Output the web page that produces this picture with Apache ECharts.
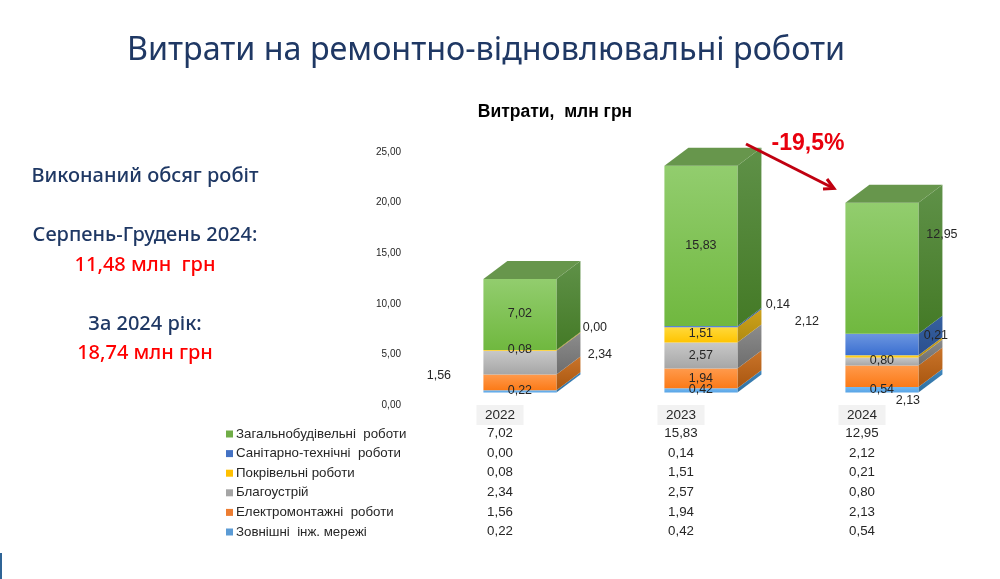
<!DOCTYPE html>
<html><head><meta charset="utf-8">
<style>html,body{margin:0;padding:0;background:#fff}#c{width:1000px;height:579px}</style>
<script src="https://cdn.jsdelivr.net/npm/echarts@6/dist/echarts.min.js"></script>
</head><body><div id="c"></div>
<script>
const years = ['2022','2023','2024'];
const general = [7.02,15.83,12.95];
const sanitary = [0.00,0.14,2.12];
const roofing = [0.08,1.51,0.21];
const landscaping = [2.34,2.57,0.80];
const electrical = [1.56,1.94,2.13];
const external = [0.22,0.42,0.54];
const yTicks = {min:0,max:25,interval:5};

const names = {
  general:'Загальнобудівельні  роботи', sanitary:'Санітарно-технічні  роботи', roofing:'Покрівельні роботи',
  landscaping:'Благоустрій', electrical:'Електромонтажні  роботи', external:'Зовнішні  інж. мережі'
};
// colours: legend, front top, front bottom, side top, side bottom
const looks = {
  external:['#5b9bd5','#74b8f0','#58a4e6','#3f86bd','#2f6f9f'],
  electrical:['#ed7d31','#ff9a4c','#fb7a17','#c9742a','#a9560f'],
  landscaping:['#a5a5a5','#c8c8c8','#a6a6a6','#8c8c8c','#6d6d6d'],
  roofing:['#ffc000','#ffd93a','#ffc400','#cda21c','#b08a10'],
  sanitary:['#4472c4','#6c96e0','#3b6fd0','#35609f','#2a4f8e'],
  general:['#70ad47','#92cd6e','#70b83f','#5f9148','#447a26']
};
// label nudges from the centre of each front face
const shifts = {
  external:[[0,-1],[0,-1],[0,0]],
  electrical:[[-81,-7],[0,0],[26,24]],
  landscaping:[[80,-8],[0,0],[0,-1]],
  roofing:[[0,-1],[0,-1],[54,-21]],
  sanitary:[[75,-22],[77,-22],[-75,-23]],
  general:[[0,-1],[0,0],[60,-34]]
};
const stackOrder = [['external',external],['electrical',electrical],['landscaping',landscaping],['roofing',roofing],['sanitary',sanitary],['general',general]];
const fmt = v => v.toFixed(2).replace('.',',');
const FONT = '"Liberation Sans", Arial, sans-serif';
const grad = (a,b) => new echarts.graphic.LinearGradient(0,0,0,1,[{offset:0,color:a},{offset:1,color:b}]);

const running = [0,0,0];
const barSeries = stackOrder.map(([key,vals]) => {
  const look = looks[key];
  const data = vals.map((v,i) => { const s = running[i]; running[i] += v; return [i,s,s+v,v]; });
  return {
    name:names[key], type:'custom', coordinateSystem:'cartesian2d', clip:false,
    itemStyle:{color:look[0]}, encode:{x:0,y:[1,2]}, data, z:3,
    renderItem(params,api){
      const i = api.value(0), v = api.value(3);
      const p0 = api.coord([i,api.value(1)]), p1 = api.coord([i,api.value(2)]);
      const band = api.size([1,0])[0];
      const cx = p0[0] + band*0.11, halfW = 36.5, lift = 12.5, dx = 24, dy = 18;
      const l = cx-halfW, r = cx+halfW, b = p0[1]-lift, t = p1[1]-lift;
      const kids = [];
      if (v > 0) {
        kids.push({type:'polygon',shape:{points:[[r,b],[r+dx,b-dy],[r+dx,t-dy],[r,t]]},style:{fill:grad(look[3],look[4])}});
        kids.push({type:'rect',shape:{x:l,y:t,width:r-l,height:b-t},style:{fill:grad(look[1],look[2])}});
        if (key==='general') kids.push({type:'polygon',shape:{points:[[l,t],[l+dx,t-dy],[r+dx,t-dy],[r,t]]},style:{fill:'#67964c'}});
      }
      const sh = shifts[key][i];
      kids.push({type:'text',z2:50,style:{x:cx+sh[0],y:(t+b)/2+sh[1],text:fmt(v),fill:'#262626',font:'12.5px '+FONT,align:'center',verticalAlign:'middle'}});
      return {type:'group',children:kids};
    }
  };
});

// data table under the axis, columns follow the category axis
const tableRows = [general,sanitary,roofing,landscaping,electrical,external];
const rowTop = 433.5, rowGap = 19.6;
const tableSeries = {
  type:'custom', coordinateSystem:'cartesian2d', clip:false, silent:true, z:4,
  data: years.map((y,i)=>[i,0]),
  renderItem(params,api){
    const i = api.value(0), x = api.coord([i,0])[0];
    return {type:'group',children:tableRows.map((row,r)=>({type:'text',style:{x:x,y:rowTop+r*rowGap,text:fmt(row[i]),fill:'#262626',font:'13.3px '+FONT,align:'center',verticalAlign:'middle'}}))};
  }
};

const chart = echarts.init(document.getElementById('c'),null,{renderer:'canvas'});
const darkBlue = '#1f3864', side = '"Noto Sans", sans-serif';
const sideText = (t,y,fill,size) => ({type:'text',x:145,y:y,style:{text:t,fill:fill,font:'500 '+size+'px '+side,align:'center',verticalAlign:'middle'}});
chart.setOption({
  animation:false, backgroundColor:'#fff',
  grid:{left:409.5,top:152,width:543,height:253,containLabel:false},
  legend:{orient:'vertical',left:221,top:422,itemWidth:7,itemHeight:7,itemGap:5.6,icon:'rect',selectedMode:false,
    data:stackOrder.map(([k])=>names[k]).reverse(),
    textStyle:{fontFamily:FONT,fontSize:13.3,color:'#262626',padding:[0,0,0,-2],lineHeight:14}},
  xAxis:{type:'category',data:years,axisLine:{show:false},axisTick:{show:false},splitLine:{show:false},
    axisLabel:{margin:0,fontFamily:FONT,fontSize:13.5,color:'#262626',backgroundColor:'#f2f2f2',padding:[3.5,8.5,3.5,8.5],lineHeight:13,verticalAlign:'top'}},
  yAxis:{type:'value',min:yTicks.min,max:yTicks.max,interval:yTicks.interval,axisLine:{show:false},axisTick:{show:false},splitLine:{show:false},
    axisLabel:{margin:8.5,fontFamily:FONT,fontSize:10,color:'#262626',formatter:v=>fmt(v)}},
  series:[...barSeries,tableSeries],
  graphic:[
    {type:'text',x:486,y:51,style:{text:'Витрати на ремонтно-відновлювальні роботи',fill:darkBlue,font:'400 32.3px '+side,align:'center',verticalAlign:'middle'}},
    {type:'text',x:555,y:112,style:{text:'Витрати,  млн грн',fill:'#000',font:'bold 17.5px '+FONT,align:'center',verticalAlign:'middle'}},
    sideText('Виконаний обсяг робіт',176,darkBlue,20),
    sideText('Серпень-Грудень 2024:',235,darkBlue,20),
    sideText('11,48 млн  грн',265,'#ff0000',20),
    sideText('За 2024 рік:',324,darkBlue,20),
    sideText('18,74 млн грн',353,'#ff0000',20),
    {type:'text',x:808,y:144,z:20,style:{text:'-19,5%',fill:'#e8000d',font:'bold 23px '+FONT,align:'center',verticalAlign:'middle'}},
    {type:'line',z:20,shape:{x1:746,y1:144,x2:833,y2:188},style:{stroke:'#c00010',lineWidth:3}},
    {type:'polyline',z:20,shape:{points:[[823,189],[834,188.5],[827,179]]},style:{stroke:'#c00010',lineWidth:3,fill:null}},
    {type:'rect',shape:{x:0,y:553,width:2,height:26},style:{fill:'#2f6496'}}
  ]
});
</script></body></html>
